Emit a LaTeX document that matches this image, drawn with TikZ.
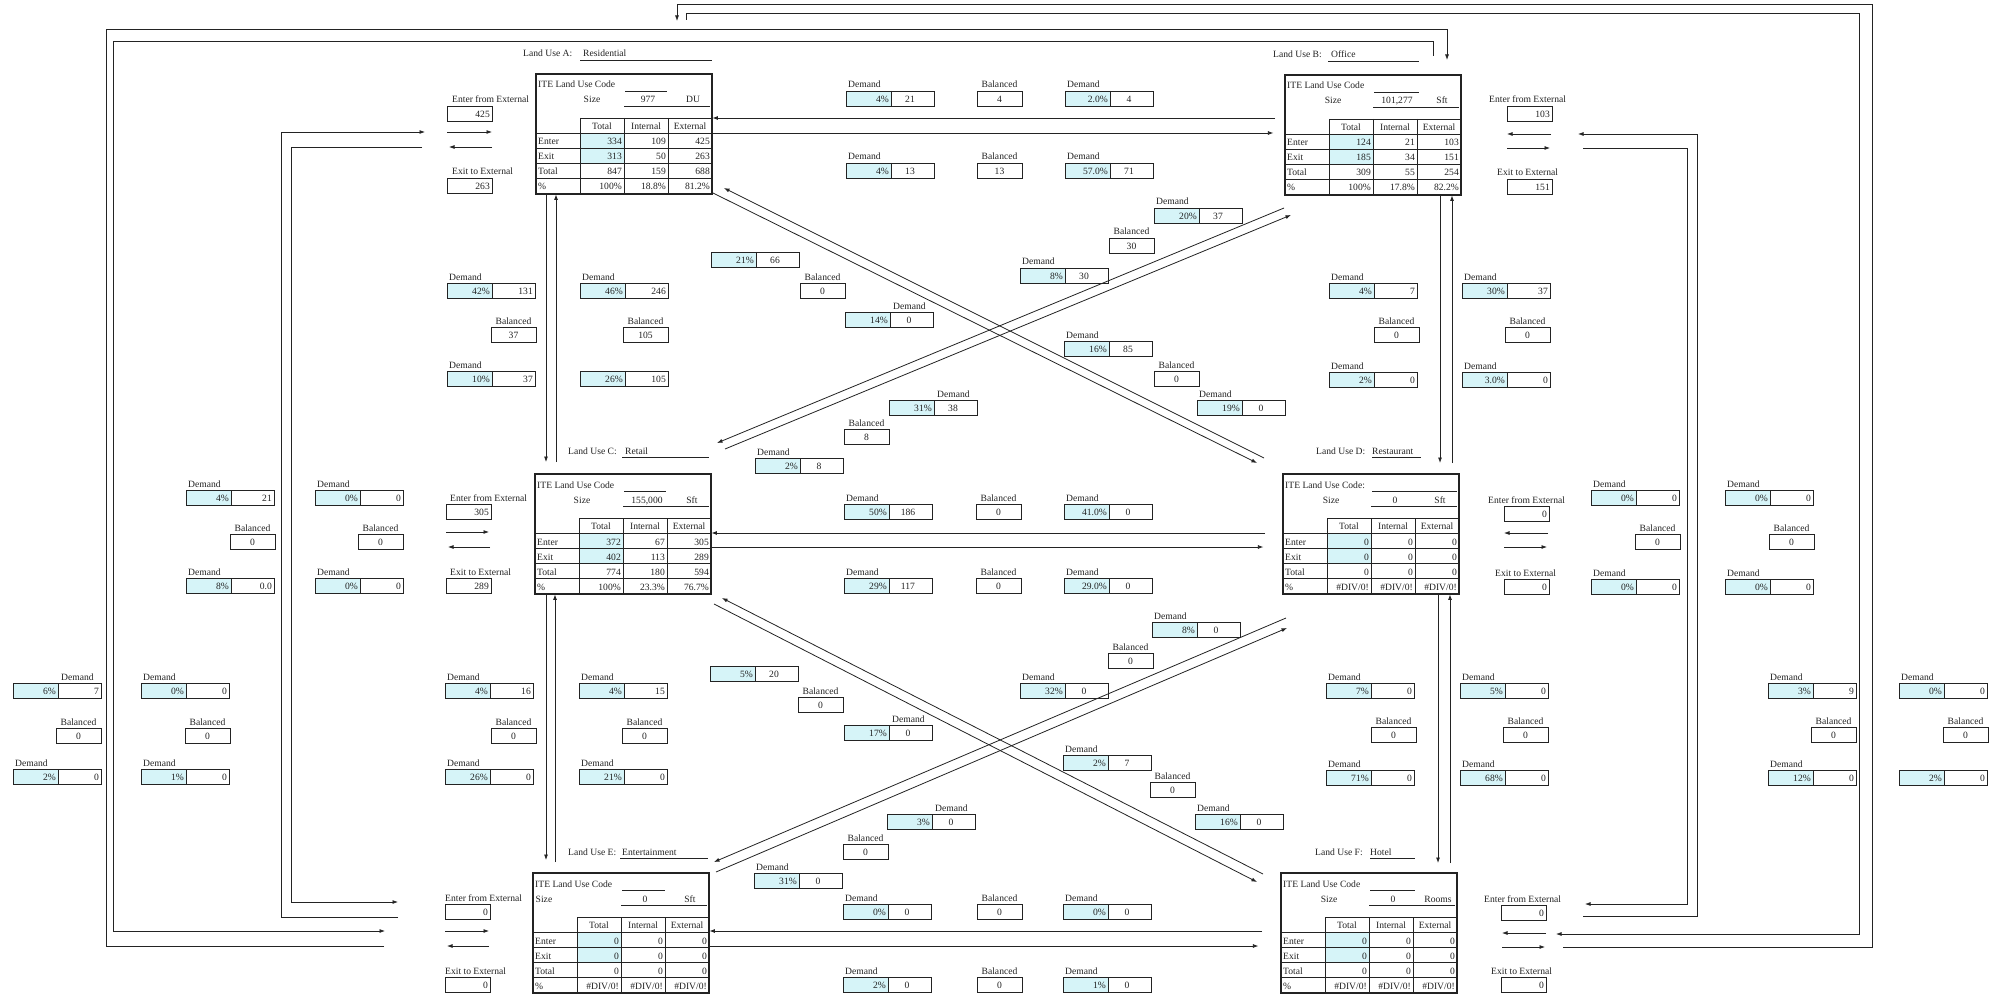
\documentclass[tikz,border=0pt]{standalone}
\usepackage{fontspec}
\setmainfont{Liberation Serif}
\usetikzlibrary{arrows.meta}
\definecolor{cyanfill}{RGB}{214,244,248}
\definecolor{ink}{RGB}{35,35,35}
\tikzset{
  tx/.style={inner sep=0pt, font=\fontsize{9.6}{11}\selectfont, text=ink},
  bx/.style={draw=ink, line width=0.8pt},
  blkframe/.style={draw=ink, line width=1.8pt},
  cn/.style={draw=ink, line width=0.8pt},
  arr/.style={cn, -{Latex[length=5.5pt,width=4pt]}},
}
% Demand box: name, x, y, pct, val, valalign r/c, label L/R/N
\newcommand\DBox[7]{%
  \fill[cyanfill] (#2,#3) rectangle ++(45,15);
  \draw[bx] (#2,#3) rectangle ++(88,15);
  \draw[bx] (#2+45,#3) -- ++(0,15);
  \node[tx,anchor=base east] (#1p) at (#2+43,#3+11.5) {#4};
  \ifx r#6\node[tx,anchor=base east] (#1v) at (#2+86,#3+11.5) {#5};%
  \else\node[tx,anchor=base] (#1v) at (#2+64,#3+11.5) {#5};\fi
  \ifx L#7\node[tx,anchor=base west] (#1l) at (#2+2,#3-3) {Demand};\fi
  \ifx R#7\node[tx,anchor=base west] (#1l) at (#2+48,#3-3) {Demand};\fi
}
% Balanced box: name, x, y, val
\newcommand\BBox[4]{%
  \draw[bx] (#2,#3) rectangle ++(45,15);
  \node[tx,anchor=base] (#1v) at (#2+22.5,#3+11.5) {#4};
  \node[tx,anchor=base] (#1l) at (#2+22.5,#3-3) {Balanced};
}
% External box: name, x, y, val, label, label x
\newcommand\EBox[6]{%
  \draw[bx] (#2,#3) rectangle ++(45,15);
  \node[tx,anchor=base east] (#1v) at (#2+43,#3+11.5) {#4};
  \node[tx,anchor=base west] (#1l) at (#6,#3-3) {#5};
}
% Block frame: name, L, T
\newcommand\Blk[3]{%
  \node[inner sep=0pt,minimum width=176,minimum height=120,anchor=north west] (#1) at (#2,#3) {};
  \fill[cyanfill] (#2+44,#3+59) rectangle (#2+88,#3+89);
  \draw[bx] (#2+44,#3+44) -- (#2+176,#3+44);
  \foreach \yy in {59,74,89,104} {\draw[bx] (#2,#3+\yy) -- (#2+176,#3+\yy);}
  \foreach \xx in {44,88,132} {\draw[bx] (#2+\xx,#3+44) -- (#2+\xx,#3+120);}
  \draw[blkframe] (#2,#3) rectangle (#2+176,#3+120);
  \node[tx,anchor=base] (#1h1) at (#2+66,#3+55.5) {Total};
  \node[tx,anchor=base] (#1h2) at (#2+110,#3+55.5) {Internal};
  \node[tx,anchor=base] (#1h3) at (#2+154,#3+55.5) {External};
}
% Block head: name, L, T, ITE text, ITE underline end, Size x, size value, unit
\newcommand\BlkHead[8]{%
  \node[tx,anchor=base west] (#1ite) at (#2+2,#3+14) {#4};
  \draw[bx] (#2+89,#3+17) -- (#2+#5,#3+17);
  \node[tx,anchor=base] (#1sz) at (#2+#6,#3+29) {Size};
  \node[tx,anchor=base] (#1szv) at (#2+112,#3+29) {#7};
  \node[tx,anchor=base] (#1szu) at (#2+157,#3+29) {#8};
  \draw[bx] (#2+88,#3+32) -- (#2+174,#3+32);
}
% Row: name, L, baseline y, label, v1, v2, v3
\newcommand\RowV[7]{%
  \node[tx,anchor=base west] (#1l) at (#2+2,#3) {#4};
  \node[tx,anchor=base east] (#1a) at (#2+86,#3) {#5};
  \node[tx,anchor=base east] (#1b) at (#2+130,#3) {#6};
  \node[tx,anchor=base east] (#1c) at (#2+174,#3) {#7};
}
% Land use title: name, x, y(base), letter, name x, name, underline start, underline end
\newcommand\LU[8]{%
  \node[tx,anchor=base west] (#1t) at (#2,#3) {Land Use #4:};
  \node[tx,anchor=base west] (#1n) at (#5,#3) {#6};
  \draw[bx] (#7,#3+3) -- (#8,#3+3);
}
\begin{document}
\begin{tikzpicture}[x=1pt,y=-1pt]
\useasboundingbox (0,0) rectangle (2004,1000);
\fill[white] (0,0) rectangle (2004,1000);

% ---------------- Blocks ----------------
% A
\LU{luA}{523}{57}{A}{583}{Residential}{580}{712}
\Blk{A}{536}{74}
\BlkHead{A}{536}{74}{ITE Land Use Code}{131}{56}{977}{DU}
\RowV{Ae}{536}{145}{Enter}{334}{109}{425}
\RowV{Ax}{536}{160}{Exit}{313}{50}{263}
\RowV{At}{536}{175}{Total}{847}{159}{688}
\RowV{Ap}{536}{190}{\%}{100\%}{18.8\%}{81.2\%}
% B
\LU{luB}{1273}{58}{B}{1331}{Office}{1328}{1419}
\Blk{B}{1285}{75}
\BlkHead{B}{1285}{75}{ITE Land Use Code}{134}{48}{101,277}{Sft}
\RowV{Be}{1285}{146}{Enter}{124}{21}{103}
\RowV{Bx}{1285}{161}{Exit}{185}{34}{151}
\RowV{Bt}{1285}{176}{Total}{309}{55}{254}
\RowV{Bp}{1285}{191}{\%}{100\%}{17.8\%}{82.2\%}
% C
\LU{luC}{568}{454}{C}{625}{Retail}{622}{709}
\Blk{C}{535}{474}
\BlkHead{C}{535}{474}{ITE Land Use Code}{131}{47}{155,000}{Sft}
\RowV{Ce}{535}{545}{Enter}{372}{67}{305}
\RowV{Cx}{535}{560}{Exit}{402}{113}{289}
\RowV{Ct}{535}{575}{Total}{774}{180}{594}
\RowV{Cp}{535}{590}{\%}{100\%}{23.3\%}{76.7\%}
% D
\LU{luD}{1316}{454}{D}{1372}{Restaurant}{1372}{1421}
\Blk{D}{1283}{474}
\BlkHead{D}{1283}{474}{ITE Land Use Code:}{174}{48}{0}{Sft}
\RowV{De}{1283}{545}{Enter}{0}{0}{0}
\RowV{Dx}{1283}{560}{Exit}{0}{0}{0}
\RowV{Dt}{1283}{575}{Total}{0}{0}{0}
\RowV{Dp}{1283}{590}{\%}{\#DIV/0!}{\#DIV/0!}{\#DIV/0!}
% E
\LU{luE}{568}{855}{E}{622}{Entertainment}{620}{708}
\Blk{E}{533}{873}
\BlkHead{E}{533}{873}{ITE Land Use Code}{132}{11}{0}{Sft}
\RowV{Ee}{533}{944}{Enter}{0}{0}{0}
\RowV{Ex}{533}{959}{Exit}{0}{0}{0}
\RowV{Et}{533}{974}{Total}{0}{0}{0}
\RowV{Ep}{533}{989}{\%}{\#DIV/0!}{\#DIV/0!}{\#DIV/0!}
% F
\LU{luF}{1315}{855}{F}{1370}{Hotel}{1370}{1415}
\Blk{F}{1281}{873}
\BlkHead{F}{1281}{873}{ITE Land Use Code}{134}{48}{0}{Rooms}
\RowV{Fe}{1281}{944}{Enter}{0}{0}{0}
\RowV{Fx}{1281}{959}{Exit}{0}{0}{0}
\RowV{Ft}{1281}{974}{Total}{0}{0}{0}
\RowV{Fp}{1281}{989}{\%}{\#DIV/0!}{\#DIV/0!}{\#DIV/0!}

% ---------------- External boxes ----------------
\EBox{Aen}{447}{106}{425}{Enter from External}{452}
\EBox{Aex}{447}{178}{263}{Exit to External}{452}
\EBox{Ben}{1507}{106}{103}{Enter from External}{1489}
\EBox{Bex}{1507}{179}{151}{Exit to External}{1497}
\EBox{Cen}{446}{504}{305}{Enter from External}{450}
\EBox{Cex}{446}{578}{289}{Exit to External}{450}
\EBox{Den}{1504}{506}{0}{Enter from External}{1488}
\EBox{Dex}{1504}{579}{0}{Exit to External}{1495}
\EBox{Een}{445}{904}{0}{Enter from External}{445}
\EBox{Eex}{445}{977}{0}{Exit to External}{445}
\EBox{Fen}{1501}{905}{0}{Enter from External}{1484}
\EBox{Fex}{1501}{977}{0}{Exit to External}{1491}

% ---------------- Demand / Balanced boxes ----------------
% A-B
\DBox{ab1}{846}{91}{4\%}{21}{c}{L}
\BBox{ab2}{977}{91}{4}
\DBox{ab3}{1065}{91}{2.0\%}{4}{c}{L}
\DBox{ab4}{846}{163}{4\%}{13}{c}{L}
\BBox{ab5}{977}{163}{13}
\DBox{ab6}{1065}{163}{57.0\%}{71}{c}{L}
% A-C
\DBox{ac1}{447}{283}{42\%}{131}{r}{L}
\BBox{ac2}{491}{327}{37}
\DBox{ac3}{447}{371}{10\%}{37}{r}{L}
\DBox{ac4}{580}{283}{46\%}{246}{r}{L}
\BBox{ac5}{623}{327}{105}
\DBox{ac6}{580}{371}{26\%}{105}{r}{N}
% A-D and B-C diagonals
\DBox{ad1}{711}{252}{21\%}{66}{c}{N}
\BBox{ad2}{800}{283}{0}
\DBox{ad3}{845}{312}{14\%}{0}{c}{R}
\DBox{bc4}{889}{400}{31\%}{38}{c}{R}
\BBox{bc5}{844}{429}{8}
\DBox{bc6}{755}{458}{2\%}{8}{c}{L}
\DBox{bc1}{1154}{208}{20\%}{37}{c}{L}
\BBox{bc2}{1109}{238}{30}
\DBox{bc3}{1020}{268}{8\%}{30}{c}{L}
\DBox{ad4}{1064}{341}{16\%}{85}{c}{L}
\BBox{ad5}{1154}{371}{0}
\DBox{ad6}{1197}{400}{19\%}{0}{c}{L}
% B-D
\DBox{bd1}{1329}{283}{4\%}{7}{r}{L}
\BBox{bd2}{1374}{327}{0}
\DBox{bd3}{1329}{372}{2\%}{0}{r}{L}
\DBox{bd4}{1462}{283}{30\%}{37}{r}{L}
\BBox{bd5}{1505}{327}{0}
\DBox{bd6}{1462}{372}{3.0\%}{0}{r}{L}
% C-D
\DBox{cd1}{844}{504}{50\%}{186}{c}{L}
\BBox{cd2}{976}{504}{0}
\DBox{cd3}{1064}{504}{41.0\%}{0}{c}{L}
\DBox{cd4}{844}{578}{29\%}{117}{c}{L}
\BBox{cd5}{976}{578}{0}
\DBox{cd6}{1064}{578}{29.0\%}{0}{c}{L}
% A-E (left, C row)
\DBox{ae1}{186}{490}{4\%}{21}{r}{L}
\BBox{ae2}{230}{534}{0}
\DBox{ae3}{186}{578}{8\%}{0.0}{r}{L}
\DBox{ae4}{315}{490}{0\%}{0}{r}{L}
\BBox{ae5}{358}{534}{0}
\DBox{ae6}{315}{578}{0\%}{0}{r}{L}
% B-F (right, C row)
\DBox{bf1}{1591}{490}{0\%}{0}{r}{L}
\BBox{bf2}{1635}{534}{0}
\DBox{bf3}{1591}{579}{0\%}{0}{r}{L}
\DBox{bf4}{1725}{490}{0\%}{0}{r}{L}
\BBox{bf5}{1769}{534}{0}
\DBox{bf6}{1725}{579}{0\%}{0}{r}{L}
% far left (E row)
\DBox{xl1}{13}{683}{6\%}{7}{r}{R}
\BBox{xl2}{56}{728}{0}
\DBox{xl3}{13}{769}{2\%}{0}{r}{L}
\DBox{xl4}{141}{683}{0\%}{0}{r}{L}
\BBox{xl5}{185}{728}{0}
\DBox{xl6}{141}{769}{1\%}{0}{r}{L}
% C-E
\DBox{ce1}{445}{683}{4\%}{16}{r}{L}
\BBox{ce2}{491}{728}{0}
\DBox{ce3}{445}{769}{26\%}{0}{r}{L}
\DBox{ce4}{579}{683}{4\%}{15}{r}{L}
\BBox{ce5}{622}{728}{0}
\DBox{ce6}{579}{769}{21\%}{0}{r}{L}
% C-F and D-E diagonals
\DBox{cf1}{710}{666}{5\%}{20}{c}{N}
\BBox{cf2}{798}{697}{0}
\DBox{cf3}{844}{725}{17\%}{0}{c}{R}
\DBox{de4}{887}{814}{3\%}{0}{c}{R}
\BBox{de5}{843}{844}{0}
\DBox{de6}{754}{873}{31\%}{0}{c}{L}
\DBox{de1}{1152}{622}{8\%}{0}{c}{L}
\BBox{de2}{1108}{653}{0}
\DBox{de3}{1020}{683}{32\%}{0}{c}{L}
\DBox{cf4}{1063}{755}{2\%}{7}{c}{L}
\BBox{cf5}{1150}{782}{0}
\DBox{cf6}{1195}{814}{16\%}{0}{c}{L}
% D-F
\DBox{df1}{1326}{683}{7\%}{0}{r}{L}
\BBox{df2}{1371}{727}{0}
\DBox{df3}{1326}{770}{71\%}{0}{r}{L}
\DBox{df4}{1460}{683}{5\%}{0}{r}{L}
\BBox{df5}{1503}{727}{0}
\DBox{df6}{1460}{770}{68\%}{0}{r}{L}
% far right (E row)
\DBox{xr1}{1768}{683}{3\%}{9}{r}{L}
\BBox{xr2}{1811}{727}{0}
\DBox{xr3}{1768}{770}{12\%}{0}{r}{L}
\DBox{xr4}{1899}{683}{0\%}{0}{r}{L}
\BBox{xr5}{1943}{727}{0}
\DBox{xr6}{1899}{770}{2\%}{0}{r}{N}
% E-F
\DBox{ef1}{843}{904}{0\%}{0}{c}{L}
\BBox{ef2}{977}{904}{0}
\DBox{ef3}{1063}{904}{0\%}{0}{c}{L}
\DBox{ef4}{843}{977}{2\%}{0}{c}{L}
\BBox{ef5}{977}{977}{0}
\DBox{ef6}{1063}{977}{1\%}{0}{c}{L}

% ---------------- connector end points ----------------
% short external arrows
\coordinate (sA1a) at (447,132); \coordinate (sA1b) at (492,132);
\coordinate (sA2a) at (492,147); \coordinate (sA2b) at (449,147);
\coordinate (sC1a) at (446,532); \coordinate (sC1b) at (489,532);
\coordinate (sC2a) at (490,547); \coordinate (sC2b) at (448,547);
\coordinate (sE1a) at (445,931); \coordinate (sE1b) at (489,931);
\coordinate (sE2a) at (489,946); \coordinate (sE2b) at (447,946);
\coordinate (sB1a) at (1551,134); \coordinate (sB1b) at (1507,134);
\coordinate (sB2a) at (1507,148); \coordinate (sB2b) at (1550,148);
\coordinate (sD1a) at (1548,533); \coordinate (sD1b) at (1504,533);
\coordinate (sD2a) at (1504,547); \coordinate (sD2b) at (1547,547);
\coordinate (sF1a) at (1546,933); \coordinate (sF1b) at (1502,933);
\coordinate (sF2a) at (1502,947); \coordinate (sF2b) at (1545,947);
\foreach \s in {A1,A2,C1,C2,E1,E2,B1,B2,D1,D2,F1,F2} {\draw[arr] (s\s a) -- (s\s b);}

% A-B
\draw[arr] (B.west|-0,118) ++(-10,0) coordinate (abS) -- (A.east|-0,118);
\draw[arr] (A.east|-0,133) -- ++(561,0) coordinate (abE);
% C-D
\draw[arr] (D.west|-0,533) ++(-18,0) -- (C.east|-0,533);
\draw[arr] (C.east|-0,547) -- ++(552,0);
% E-F
\draw[arr] (F.west|-0,931) ++(-19,0) -- (E.east|-0,931);
\draw[arr] (E.east|-0,946) -- ++(549,0);
% A-C, C-E
\draw[arr] (A.south-|546,0) -- (546,462);
\draw[arr] (556,462) -- (A.south-|556,0);
\draw[arr] (C.south-|546,0) -- (546,860);
\draw[arr] (555,862) -- (C.south-|555,0);
% B-D, D-F
\draw[arr] (B.south-|1440,0) -- (1440,463);
\draw[arr] (1452,463) -- (B.south-|1452,0);
\draw[arr] (D.south-|1438,0) -- (1438,863);
\draw[arr] (1450,863) -- (D.south-|1450,0);
% diagonals
\draw[arr] (1264,458) -- (724,188);
\draw[arr] (713,193) -- (1257,463);
\draw[arr] (1284,208) -- (717,443);
\draw[arr] (725,449) -- (1291,215);
\draw[arr] (1263,874) -- (722,598);
\draw[arr] (714,604) -- (1257,882);
\draw[arr] (1286,618) -- (714,862);
\draw[arr] (716,872) -- (1287,628);

% A-E loop
\draw[arr] (422,147) -- (291,147) -- (291,902) -- (398,902);
\draw[arr] (398,917) -- (281,917) -- (281,132) -- (425,132);
% B-F loop
\draw[arr] (1583,148) -- (1687,148) -- (1687,904) -- (1585,904);
\draw[arr] (1583,916) -- (1697,916) -- (1697,134) -- (1578,134);
% B-E outer loop (top, far left)
\draw[arr] (1433,56) -- (1433,41) -- (113,41) -- (113,931) -- (385,931);
\draw[arr] (384,946) -- (106,946) -- (106,29) -- (1447,29) -- (1447,60);
% A-F outer loop (very top, far right)
\draw[arr] (686,20) -- (686,13) -- (1859,13) -- (1859,934) -- (1556,934);
\draw[arr] (1563,947) -- (1872,947) -- (1872,4) -- (677,4) -- (677,21);
\end{tikzpicture}
\end{document}
